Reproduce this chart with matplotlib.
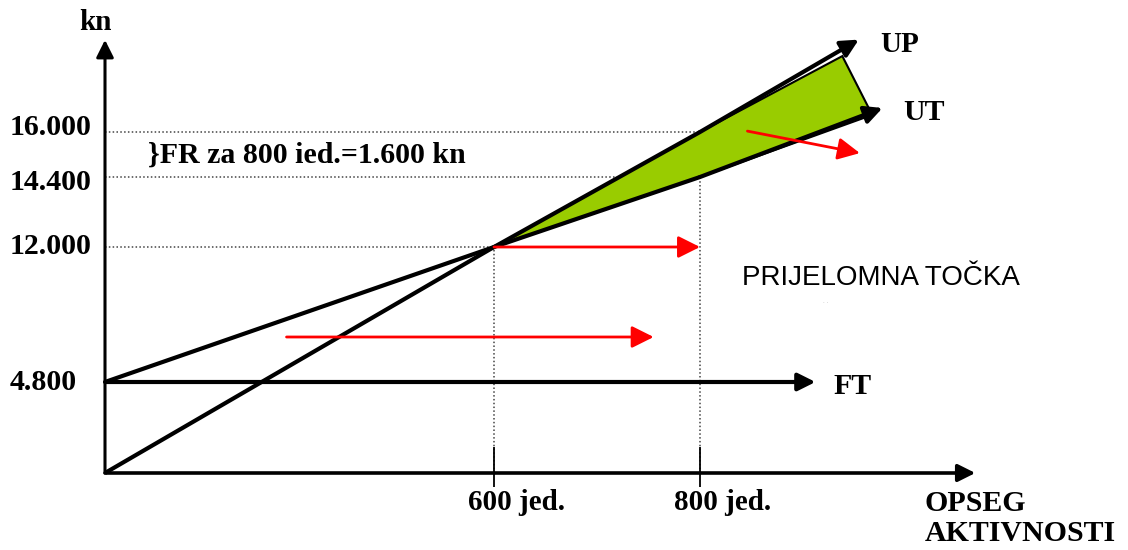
import numpy as np
import matplotlib.pyplot as plt
from matplotlib.transforms import blended_transform_factory

# prijelomna tocka
q_ticks = [600, 800]
q_labels = ["600 jed.", "800 jed."]
kn_ticks = [16000, 14400, 12000, 4800]

up_q = [0, 600, 800, 954]
up_kn = [0, 12000, 16000, 19080]
ut_q = [0, 600, 800, 977]
ut_kn = [4800, 12000, 14400, 16800]
ft_q = [0, 912]
ft_kn = [4800, 4800]

# green area between UP and UT
dobit_q = [600, 800, 938, 967, 800]
dobit_kn = [12000, 16000, 18530, 16570, 14400]

# red arrows: start, end
red_from = [(280, 7200), (600, 12000), (846, 16030)]
red_to = [(755, 7200), (800, 12000), (955, 15250)]

# the drawing is not to scale: piecewise scale so the knots sit where the picture has them
X_DATA = [-162, 0, 600, 800, 1215]
X_PIX = [0, 105, 494, 700, 1128]
Y_DATA = [-4050, 0, 4800, 12000, 14400, 16000, 20400]
Y_PIX = [0, 77, 168, 303, 373, 418, 550]

def fx(v): return np.interp(v, X_DATA, X_PIX)
def fx_inv(v): return np.interp(v, X_PIX, X_DATA)
def fy(v): return np.interp(v, Y_DATA, Y_PIX)
def fy_inv(v): return np.interp(v, Y_PIX, Y_DATA)

W, H = 1128, 550
fig = plt.figure(figsize=(W / 100, H / 100), dpi=100)
ax = fig.add_axes([0, 0, 1, 1])
ax.set_xscale('function', functions=(fx, fx_inv))
ax.set_yscale('function', functions=(fy, fy_inv))
ax.set_xlim(X_DATA[0], X_DATA[-1])
ax.set_ylim(Y_DATA[0], Y_DATA[-1])
ax.axis('off')

def px(x, y):
    return x / W, 1 - y / H

serif = dict(family='Liberation Serif', weight='bold', color='black')

def arrow(tip, tail, color='black', lw=3.0, z=4, ms=15):
    ax.annotate('', xy=tip, xytext=tail, zorder=z,
                arrowprops=dict(arrowstyle='-|>,head_length=0.7,head_width=0.35',
                                color=color, lw=lw, mutation_scale=ms,
                                shrinkA=0, shrinkB=0))

# axes
arrow((0, 19070), (0, 0), lw=2.2)
arrow((1067, 0), (0, 0), lw=2.6)

# dotted guides
guides = [(up_q[2], up_kn[2]), (ut_q[2], ut_kn[2]), (up_q[1], up_kn[1])]
for gq, gk in guides:
    ax.plot([0, gq], [gk, gk], ls=(0, (1, 1.5)), color='#444444', lw=1.1, zorder=1)
for gq, gk in [guides[0], guides[2]]:
    ax.plot([gq, gq], [0, gk], ls=(0, (1, 1.5)), color='#444444', lw=1.1, zorder=1)
ax.vlines(q_ticks, -740, 1370, color='black', lw=1.3, zorder=1)

# profit area
ax.fill(dobit_q, dobit_kn, facecolor='#99cc00', edgecolor='black', lw=1.5, zorder=2)

# UP, UT, FT
for qq, kk in [(up_q, up_kn), (ut_q, ut_kn), (ft_q, ft_kn)]:
    ax.plot(qq[:-1], kk[:-1], color='black', lw=3, zorder=3, solid_capstyle='butt')
    arrow((qq[-1], kk[-1]), (qq[-2], kk[-2]))

# red arrows
for a, b in zip(red_from, red_to):
    arrow(b, a, color='red', lw=2, z=5, ms=19)

# y labels
tr = blended_transform_factory(fig.transFigure, ax.transData)
nudge = {16000: 3, 14400: -4}
for v in kn_ticks:
    lbl = f"{v:,}".replace(',', '.')
    ax.annotate(lbl, xy=(10 / W, v), xycoords=tr, xytext=(0, nudge.get(v, 0)),
                textcoords='offset points', ha='left', va='center', fontsize=21.5, **serif)

# x labels
for q, lbl in zip(q_ticks, q_labels):
    ax.annotate(lbl, xy=(q, 0), xytext=(-19, -27), textcoords='offset points',
                ha='left', va='baseline', fontsize=21, **serif)

fig.text(*px(95, 22), "kn", ha='center', va='center', fontsize=21, **serif)
fig.text(*px(880, 44), "UP", ha='left', va='center', fontsize=21, **serif)
fig.text(*px(903, 113), "UT", ha='left', va='center', fontsize=21.5, **serif)
fig.text(*px(833, 387), "FT", ha='left', va='center', fontsize=21.5, **serif)
fig.text(*px(925, 511), "OPSEG", ha='left', va='baseline', fontsize=21.5, **serif)
fig.text(*px(925, 541), "AKTIVNOSTI", ha='left', va='baseline', fontsize=21.5, **serif)
fig.text(*px(148, 163), "}FR za 800 ied.=1.600 kn", ha='left', va='baseline',
         fontsize=21.5, **serif)
fig.text(*px(742, 278), "PRIJELOMNA TOČKA", ha='left', va='center', fontsize=20,
         family='Liberation Sans', color='black')
fig.text(*px(826, 302), "· ·", ha='center', va='center', fontsize=4, color='#aaaaaa')

fig.savefig('out.png', dpi=100)
